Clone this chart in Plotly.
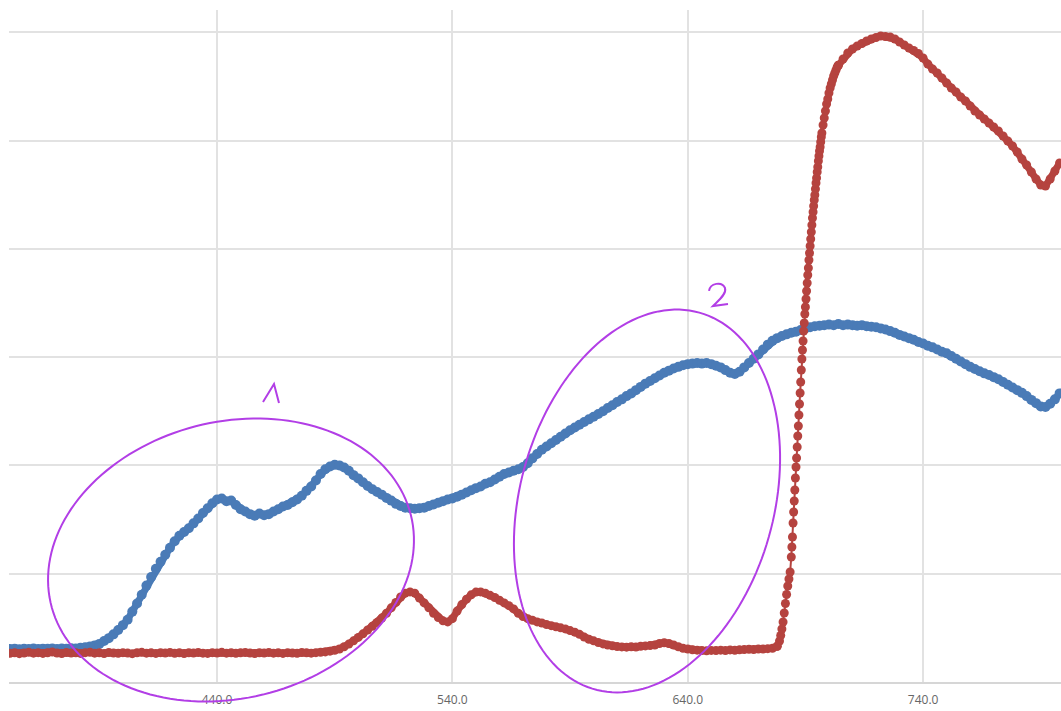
import numpy as np
import plotly.graph_objects as go

# ---- spectra ---------------------------------------------------------------
# wavelength grid in nm (2 nm steps)
wl = np.arange(352, 800, 2)  # 352 ... 798

blue = [
    3.05, 3.08, 3.03, 3.07, 3.05, 3.09, 3.04, 3.08, 3.06, 3.10,        # 352-370
    3.05, 3.09, 3.07, 3.12, 3.10, 3.16, 3.20, 3.28, 3.38, 3.52,        # 372-390
    3.78, 4.05, 4.40, 4.80, 5.25, 5.75, 6.50, 7.25, 8.05, 8.90,        # 392-410
    9.70, 10.45, 11.10, 11.75, 12.40, 13.00, 13.50, 13.85, 14.20, 14.65,  # 412-430
    15.10, 15.60, 16.05, 16.50, 16.85, 16.95, 16.70, 16.75, 16.35, 15.95,  # 432-450
    15.75, 15.50, 15.35, 15.55, 15.40, 15.50, 15.75, 15.95, 16.20, 16.35,  # 452-470
    16.60, 16.85, 17.20, 17.65, 18.05, 18.60, 19.20, 19.65, 19.90, 20.05,  # 472-490
    20.00, 19.80, 19.50, 19.10, 18.80, 18.45, 18.10, 17.80, 17.55, 17.30,  # 492-510
    17.00, 16.75, 16.45, 16.25, 16.10, 16.05, 16.00, 16.05, 16.10, 16.25,  # 512-530
    16.40, 16.55, 16.70, 16.85, 16.95, 17.10, 17.30, 17.50, 17.70, 17.90,  # 532-550
    18.05, 18.30, 18.45, 18.70, 18.95, 19.20, 19.35, 19.50, 19.65, 19.85,  # 552-570
    20.20, 20.65, 21.05, 21.45, 21.75, 22.05, 22.35, 22.65, 22.95, 23.25,  # 572-590
    23.50, 23.75, 24.00, 24.25, 24.50, 24.75, 25.00, 25.30, 25.55, 25.85,  # 592-610
    26.10, 26.40, 26.65, 26.95, 27.25, 27.55, 27.80, 28.05, 28.30, 28.55,  # 612-630
    28.75, 28.95, 29.10, 29.25, 29.35, 29.40, 29.45, 29.40, 29.45, 29.35,  # 632-650
    29.20, 29.05, 28.80, 28.55, 28.45, 28.65, 29.05, 29.45, 29.85, 30.25,  # 652-670
    30.70, 31.15, 31.50, 31.75, 31.95, 32.10, 32.25, 32.35, 32.50, 32.65,  # 672-690
    32.75, 32.85, 32.90, 32.95, 33.00, 32.95, 33.05, 32.95, 33.00, 32.95,  # 692-710
    32.90, 32.95, 32.85, 32.80, 32.75, 32.65, 32.55, 32.40, 32.25, 32.05,  # 712-730
    31.90, 31.75, 31.60, 31.40, 31.25, 31.05, 30.90, 30.70, 30.50, 30.35,  # 732-750
    30.10, 29.85, 29.60, 29.35, 29.10, 28.90, 28.70, 28.50, 28.35, 28.15,  # 752-770
    27.95, 27.70, 27.45, 27.20, 26.95, 26.70, 26.40, 26.05, 25.75, 25.45,  # 772-790
    25.40, 25.70, 26.10, 26.65,                                            # 792-798
]

# red spectrum, 352-678 nm
red_lo_wl = np.arange(352, 680, 2)
red_lo = [
    2.65, 2.70, 2.62, 2.68, 2.74, 2.66, 2.71, 2.64, 2.70, 2.76,  # 352-370
    2.68, 2.63, 2.72, 2.67, 2.70, 2.64, 2.71, 2.75, 2.66, 2.69,  # 372-390
    2.63, 2.72, 2.68, 2.65, 2.71, 2.67, 2.62, 2.70, 2.74, 2.66,  # 392-410
    2.69, 2.64, 2.71, 2.67, 2.73, 2.65, 2.69, 2.63, 2.70, 2.68,  # 412-430
    2.72, 2.66, 2.64, 2.71, 2.68, 2.74, 2.66, 2.70, 2.65, 2.69,  # 432-450
    2.72, 2.67, 2.63, 2.70, 2.68, 2.73, 2.66, 2.69, 2.64, 2.71,  # 452-470
    2.68, 2.65, 2.72, 2.69, 2.66, 2.71, 2.74, 2.78, 2.85, 2.93,  # 472-490
    3.05, 3.25, 3.50, 3.80, 4.12, 4.45, 4.80, 5.15, 5.50, 5.90,  # 492-510
    6.35, 6.85, 7.35, 7.85, 8.20, 8.32, 8.20, 7.75, 7.30, 6.85,  # 512-530
    6.35, 5.95, 5.65, 5.55, 5.85, 6.55, 7.15, 7.65, 8.05, 8.30,  # 532-550
    8.32, 8.20, 8.00, 7.80, 7.55, 7.30, 7.05, 6.75, 6.35, 6.05,  # 552-570
    5.85, 5.70, 5.55, 5.45, 5.30, 5.20, 5.10, 5.00, 4.90, 4.75,  # 572-590
    4.60, 4.40, 4.15, 3.95, 3.80, 3.65, 3.52, 3.42, 3.35, 3.28,  # 592-610
    3.24, 3.22, 3.25, 3.23, 3.30, 3.33, 3.36, 3.42, 3.55, 3.62,  # 612-630
    3.55, 3.42, 3.25, 3.12, 3.05, 2.98, 2.94, 2.90, 2.88, 2.92,  # 632-650
    2.90, 2.94, 2.91, 2.96, 2.93, 2.97, 2.99, 3.02, 3.00, 3.05,  # 652-670
    3.04, 3.08, 3.12, 3.30,                                      # 672-678
]

# red absorption edge, sampled more finely
red_edge_wl = np.concatenate([
    np.arange(679.0, 684.0, 0.5),
    np.arange(684.0, 697.25, 0.25),
    np.arange(697.5, 704.0, 0.5),
])
red_edge = [
    3.79, 4.29, 4.89, 5.54, 6.37, 7.25, 8.08, 8.86, 9.51, 10.16,  # 679.0-683.5
    11.54, 12.47, 13.39, 14.68,   # 684
    15.70, 16.71, 17.73, 18.84,   # 685
    19.85, 20.68, 21.70, 22.71,   # 686
    23.64, 24.65, 25.67, 26.69,   # 687
    27.70, 28.81, 29.82, 30.66,   # 688
    31.49, 32.41, 33.15, 33.98,   # 689
    34.63, 35.36, 36.10, 36.84,   # 690
    37.58, 38.23, 38.97, 39.61,   # 691
    40.26, 40.90, 41.55, 42.20,   # 692
    42.84, 43.40, 43.95, 44.51,   # 693
    44.97, 45.52, 46.08, 46.54,   # 694
    47.09, 47.55, 48.11, 48.57,   # 695
    49.03, 49.40, 49.86, 50.32,   # 696
    50.69,                        # 697.0
    51.43, 52.08, 52.72, 53.37, 53.83, 54.39, 54.85, 55.22, 55.59,
    55.96, 56.23, 56.51, 56.79,   # 697.5-703.5
]

# red spectrum, 704-798 nm
red_hi_wl = np.arange(704, 800, 2)
red_hi = [
    56.95, 57.53, 58.08, 58.45, 58.73, 58.96, 59.19, 59.37, 59.51, 59.65,  # 704-722
    59.60, 59.56, 59.37, 59.10, 58.82, 58.54, 58.31, 58.03, 57.62, 57.06,  # 724-742
    56.60, 56.23, 55.77, 55.31, 54.85, 54.48, 54.02, 53.65, 53.19, 52.72,  # 744-762
    52.35, 51.99, 51.62, 51.25, 50.88, 50.42, 49.95, 49.49, 48.94, 48.29,  # 764-782
    47.74, 47.09, 46.45, 45.89, 45.80, 46.45, 47.18, 47.92,                # 784-798
]

x_ticks = [440, 540, 640, 740]
x_tick_text = ["440.0", "540.0", "640.0", "740.0"]

BLUE = "#4a7bb7"
RED = "#b5433f"
PURPLE = "#b23ee6"

# ---- figure ----------------------------------------------------------------
W, H = 1061, 711
M_L, M_R, M_T, M_B = 9, 0, 10, 29
PW, PH = W - M_L - M_R, H - M_T - M_B

fig = go.Figure()


def spectrum(x, y, color, lw, ms):
    return go.Scatter(
        x=x, y=y, mode="lines+markers",
        line=dict(color=color, width=lw),
        marker=dict(color=color, size=ms, line=dict(width=0)),
        hoverinfo="x+y", showlegend=False,
    )


fig.add_trace(spectrum(wl, blue, BLUE, 7, 10))
# red: thick band where the curve is slow, thin link through the steep edge
fig.add_trace(spectrum(np.append(red_lo_wl[-1:], red_edge_wl).tolist() + [704],
                       red_lo[-1:] + red_edge + red_hi[:1], RED, 2, 9))
fig.add_trace(spectrum(red_lo_wl, red_lo, RED, 7, 9))
fig.add_trace(spectrum(red_hi_wl, red_hi, RED, 7, 9))


def to_paper(px, py):
    """Screen pixel -> paper fraction."""
    return (px - M_L) / PW, (H - M_B - py) / PH


def ellipse_path(cx, cy, a, b, phi, n=160):
    t = np.linspace(0, 2 * np.pi, n)
    ex = cx + a * np.cos(t) * np.cos(phi) - b * np.sin(t) * np.sin(phi)
    ey = cy + a * np.cos(t) * np.sin(phi) + b * np.sin(t) * np.cos(phi)
    pts = [to_paper(u, v) for u, v in zip(ex, ey)]
    return "M " + " L ".join(f"{u:.5f},{v:.5f}" for u, v in pts) + " Z"


def stroke_path(cmds):
    out = []
    for c, pts in cmds:
        coords = " ".join(f"{u:.5f},{v:.5f}" for u, v in (to_paper(*p) for p in pts))
        out.append(f"{c} {coords}")
    return " ".join(out)


hand = dict(type="path", xref="paper", yref="paper",
            line=dict(color=PURPLE, width=2), layer="above")

shapes = [
    dict(hand, path=ellipse_path(231, 560, 185.4, 138.3, -0.2455)),
    dict(hand, path=ellipse_path(647, 501, 195.5, 127, -1.30)),
    # "1"
    dict(hand, path=stroke_path([("M", [(263, 402)]), ("L", [(274, 384)]), ("L", [(279, 403)])])),
    # "2"
    dict(hand, path=stroke_path([
        ("M", [(709, 291)]),
        ("C", [(710, 283), (722, 281), (725, 288)]),
        ("C", [(727, 294), (718, 301), (713, 306)]),
        ("L", [(728, 304)]),
    ])),
]

fig.update_layout(
    width=W, height=H,
    margin=dict(l=M_L, r=M_R, t=M_T, b=M_B),
    paper_bgcolor="white", plot_bgcolor="white",
    shapes=shapes,
    font=dict(family="Open Sans, sans-serif"),
    xaxis=dict(
        range=[351.6, 798.6],
        tickvals=x_ticks, ticktext=x_tick_text,
        showgrid=True, gridcolor="#e2e2e2", gridwidth=1.5,
        showline=True, linecolor="#d6d6d6", linewidth=1.5,
        zeroline=False, ticks="",
        tickfont=dict(size=12, color="#666666"),
        ticklabelstandoff=6,
    ),
    yaxis=dict(
        range=[0, 62.05], dtick=10, tick0=0,
        showgrid=True, gridcolor="#e2e2e2", gridwidth=1.5,
        showticklabels=False, zeroline=False, showline=False, ticks="",
    ),
)

fig.write_html("out.html")
